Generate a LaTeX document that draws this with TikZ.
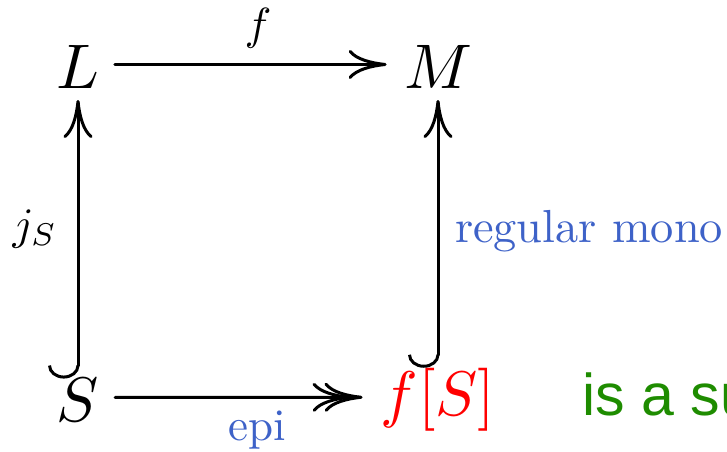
\documentclass[tikz,border=0pt]{standalone}
\usepackage{fontspec}
\newfontfamily\greenfont{Liberation Sans}
\usetikzlibrary{arrows.meta}
\definecolor{lblblue}{RGB}{62,98,200}
\definecolor{txtgreen}{RGB}{30,140,0}
\begin{document}
\begin{tikzpicture}[x=0.5pt,y=-0.5pt, line width=1.5pt, line cap=round,
  obj/.style={inner sep=0pt, outer sep=0pt, anchor=base, font=\fontsize{10}{12}\selectfont, scale=3.15, transform shape},
  lbl/.style={inner sep=0pt, outer sep=0pt, font=\fontsize{10}{12}\selectfont, scale=2.25, transform shape},
  arrto/.style={-{Computer Modern Rightarrow[length=19pt,width=14.5pt]}},
  arrhook/.style={{Hooks[right,length=6.5pt,width=30pt]}-{Computer Modern Rightarrow[length=19pt,width=14.5pt]}},
  arrepi/.style={-{Computer Modern Rightarrow[length=19pt,width=14.5pt,sep=-13pt]Computer Modern Rightarrow[length=19pt,width=14.5pt]}}
]
\useasboundingbox (0,0) rectangle (727,451);
\clip (0,0) rectangle (727,451);
\node[obj] (L) at (78,88) {$L$};
\node[obj] (M) at (438,88) {$M$};
\node[obj] (S) at (78,421) {$S$};
\node[obj, text=red] (fS) at (438,415) {$f[S]$};
\node[inner sep=0pt, anchor=base west, text=txtgreen, font=\greenfont\fontsize{29.5}{35}\selectfont] (txt) at (581,415) {is a su};
\draw[arrto, shorten <=7.75pt, shorten >=8.7pt] ([yshift=1pt]L.east) -- ([yshift=1pt]M.west);
\draw[arrhook, shorten <=-0.3pt, shorten >=6pt] (S.north) -- (L.south);
\draw[arrhook, shorten <=0pt, shorten >=6pt] (fS.north) -- (M.south);
\draw[arrepi, shorten <=8pt, shorten >=9pt] ([yshift=1pt]S.east) -- ([yshift=1pt]fS.west);
\node[lbl, anchor=base] (lf) at (258,39) {$f$};
\node[lbl, anchor=base] (lj) at (35,239) {$j_S$};
\node[lbl, anchor=base west, text=lblblue, scale=1.03] (lr) at (455,242) {regular mono};
\node[lbl, anchor=base, text=lblblue] (le) at (257,440) {epi};
\end{tikzpicture}
\end{document}
